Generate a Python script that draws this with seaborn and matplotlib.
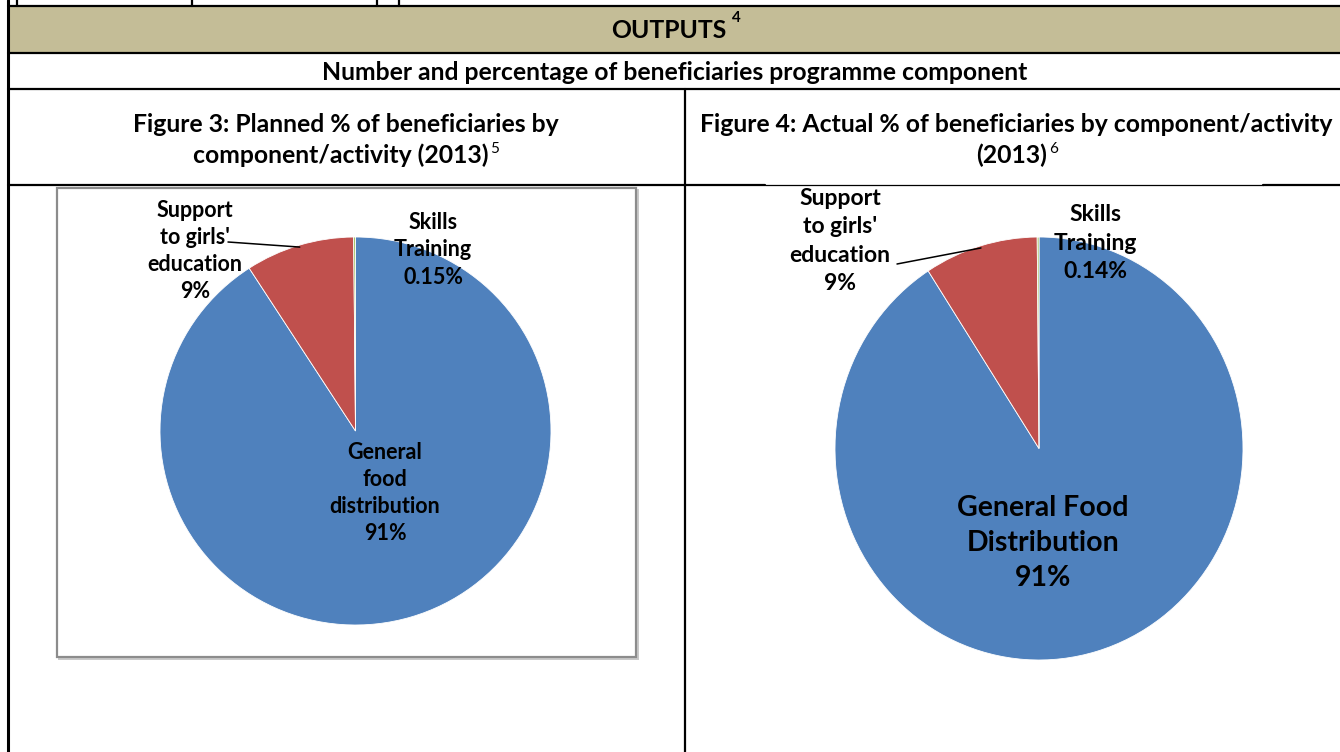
import matplotlib
matplotlib.use("Agg")
import matplotlib.pyplot as plt
from matplotlib.patches import ConnectionPatch, Rectangle
import seaborn as sns
import numpy as np

sns.set_theme(style="white")
plt.rcParams['font.family'] = ['Lato', 'DejaVu Sans']
plt.rcParams['text.color'] = 'black'

# ---------------- data ----------------
components = ["General food distribution", "Support to girls' education", "Skills Training"]
planned_values = [90.85, 9.0, 0.15]
actual_values = [90.86, 9.0, 0.14]
planned_labels = ["General\nfood\ndistribution\n91%", "Support\nto girls'\neducation\n9%", "Skills\nTraining\n0.15%"]
actual_labels = ["General Food\nDistribution\n91%", "Support\nto girls'\neducation\n9%", "Skills\nTraining\n0.14%"]
header_title = "OUTPUTS"
header_note = "4"
subtitle = "Number and percentage of beneficiaries programme component"
fig3_title = ["Figure 3: Planned % of beneficiaries by", "component/activity (2013)"]
fig3_note = "5"
fig4_title = ["Figure 4: Actual % of beneficiaries by component/activity", "(2013)"]
fig4_note = "6"

colors = ["#4F81BD", "#C0504D", "#9BBB59"]

W, H = 1340, 752
fig = plt.figure(figsize=(W / 100, H / 100), dpi=100)
fig.patch.set_facecolor("white")


def pixel_axes(z):
    a = fig.add_axes([0, 0, 1, 1])
    a.set_xlim(0, W)
    a.set_ylim(H, 0)
    a.axis("off")
    a.patch.set_alpha(0)
    a.set_zorder(z)
    return a


ax0 = pixel_axes(0)

LW = 1.6
k = "black"
# tan header band
ax0.add_patch(Rectangle((8, 6), W - 8, 47, facecolor="#C4BD97", edgecolor="none", zorder=0))
# top partial row
for x in [17, 192, 377, 399]:
    ax0.plot([x, x], [0, 6], color=k, lw=LW)
ax0.plot([8, W], [6, 6], color=k, lw=LW)
# main verticals
ax0.plot([8, 8], [0, H], color=k, lw=2.2)
ax0.plot([685, 685], [89, H], color=k, lw=LW)
# horizontals
ax0.plot([8, W], [53, 53], color=k, lw=LW)
ax0.plot([8, W], [89, 89], color=k, lw=LW)
ax0.plot([8, 765], [185, 185], color=k, lw=LW)
ax0.plot([765, 1263], [185, 185], color=k, lw=0.9)
ax0.plot([1263, W], [185, 185], color=k, lw=LW)

# left chart frame with shadow
ax0.add_patch(Rectangle((59, 190), 579, 469, facecolor="none", edgecolor="#c8c8c8", lw=1.4, zorder=1))
ax0.add_patch(Rectangle((57, 188), 579, 469, facecolor="white", edgecolor="#8c8c8c", lw=1.6, zorder=1))

fs_head = 17.8
t = ax0.text(669, 30, header_title, ha="center", va="center", fontsize=fs_head, fontweight="bold")
ax0.annotate(header_note, xy=(1, 1), xycoords=t, xytext=(4, 0), textcoords="offset points",
             ha="left", va="center", fontsize=11, fontweight="bold")
ax0.text(675, 72, subtitle, ha="center", va="center", fontsize=fs_head, fontweight="bold")
ax0.text(346, 124, fig3_title[0], ha="center", va="center", fontsize=fs_head, fontweight="bold")
t3 = ax0.text(341, 155, fig3_title[1], ha="center", va="center", fontsize=fs_head, fontweight="bold")
ax0.annotate(fig3_note, xy=(1, 1), xycoords=t3, xytext=(1, 1), textcoords="offset points",
             ha="left", va="top", fontsize=11)
ax0.text(1016, 124, fig4_title[0], ha="center", va="center", fontsize=fs_head, fontweight="bold")
t4 = ax0.text(1012, 155, fig4_title[1], ha="center", va="center", fontsize=fs_head, fontweight="bold")
ax0.annotate(fig4_note, xy=(1, 1), xycoords=t4, xytext=(1, 1), textcoords="offset points",
             ha="left", va="top", fontsize=11)


def pie_axes(x0, y0, x1, y1):
    a = fig.add_axes([x0 / W, 1 - y1 / H, (x1 - x0) / W, (y1 - y0) / H])
    a.set_zorder(1)
    return a


def draw_pie(ax, values):
    ax.pie(values, colors=colors, startangle=90, counterclock=False, radius=1.0,
           wedgeprops=dict(linewidth=0.6, edgecolor="white"))
    ax.set_aspect("auto")
    ax.set_xlim(-1, 1)
    ax.set_ylim(-1, 1)
    ax.axis("off")


def support_mid(values):
    tot = sum(values)
    ang = 90 + 360 * (values[2] + values[1] / 2) / tot
    return np.cos(np.radians(ang)), np.sin(np.radians(ang))


axL = pie_axes(160, 237, 551, 625)
draw_pie(axL, planned_values)
axR = pie_axes(835, 237, 1243, 660)
draw_pie(axR, actual_values)

axT = pixel_axes(3)

fs_lab = 15.5
ls = 1.36
# left labels
axT.text(385, 493, planned_labels[0], ha="center", va="center", fontsize=fs_lab, fontweight="bold",
         linespacing=ls)
axT.text(195, 251, planned_labels[1], ha="center", va="center", fontsize=fs_lab, fontweight="bold",
         linespacing=ls)
axT.text(433, 250, planned_labels[2], ha="center", va="center", fontsize=fs_lab, fontweight="bold",
         linespacing=ls)
# right labels
axT.text(1043, 543, actual_labels[0], ha="center", va="center", fontsize=20.5, fontweight="bold",
         linespacing=1.42)
axT.text(840, 241, actual_labels[1], ha="center", va="center", fontsize=16.5, fontweight="bold",
         linespacing=1.45)
axT.text(1095, 243, actual_labels[2], ha="center", va="center", fontsize=16.5, fontweight="bold",
         linespacing=1.45)

# leader lines
for ax, vals, end in [(axL, planned_values, (228, 242)), (axR, actual_values, (897, 264))]:
    mx, my = support_mid(vals)
    cp = ConnectionPatch(xyA=(mx * 0.99, my * 0.99), coordsA=ax.transData, xyB=end, coordsB=axT.transData,
                         color="black", lw=1.1, zorder=6)
    axT.add_artist(cp)

fig.savefig("out.png", dpi=100)
